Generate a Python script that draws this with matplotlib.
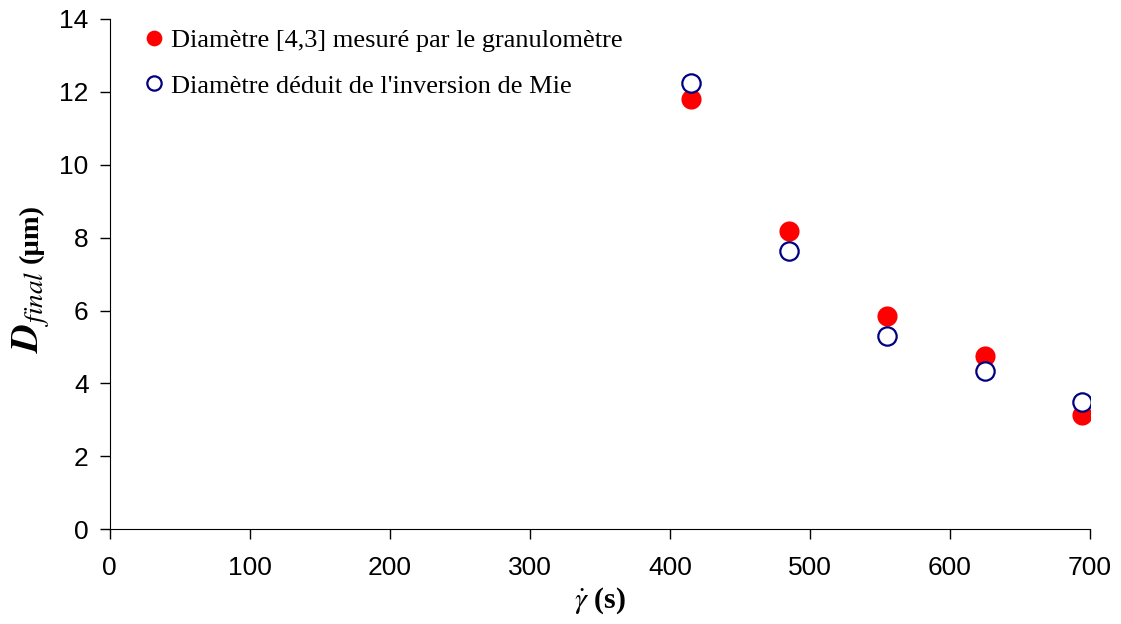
import matplotlib.pyplot as plt

plt.rcParams['mathtext.fontset'] = 'stix'

# taux de cisaillement (s^-1) et diametres finaux (um)
shear_rate = [415, 485, 555, 625, 694]
d43_granulo = [11.80, 8.19, 5.84, 4.75, 3.13]
d_mie = [12.25, 7.64, 5.29, 4.35, 3.49]

label_granulo = "Diamètre [4,3] mesuré par le granulomètre"
label_mie = "Diamètre déduit de l'inversion de Mie"

W, H = 1121, 624
fig = plt.figure(figsize=(W / 100, H / 100), dpi=100)
ax = fig.add_axes([0.0977, 0.152, 0.8747, 0.8176])

ax.plot(shear_rate, d43_granulo, 'o', color='red', markersize=14.5,
        markeredgewidth=0, label=label_granulo)
ax.plot(shear_rate, d_mie, 'o', markerfacecolor='white', markeredgecolor='#000080',
        markersize=13.2, markeredgewidth=1.6, label=label_mie)

ax.set_xlim(0, 700)
ax.set_ylim(0, 14)
ax.set_xticks(range(0, 701, 100))
ax.set_yticks(range(0, 15, 2))
for side in ['top', 'right']:
    ax.spines[side].set_visible(False)
ax.tick_params(direction='out', length=7, width=1, labelsize=19)
ax.tick_params(axis='y', pad=8)
ax.tick_params(axis='x', pad=12)
for lab in ax.get_xticklabels() + ax.get_yticklabels():
    lab.set_fontfamily('Liberation Sans')

ax.set_xlabel(r'$\dot{\gamma}$ (s)', fontsize=21.5, fontweight='bold',
              family='Liberation Serif', labelpad=4)

# titre de l'axe y : D_final plus grand que l'unite
fig.text(39 / W, 1 - 353 / H, r'$\mathbfit{D}_{\mathit{final}}$', rotation=90,
         rotation_mode='anchor', ha='left', va='baseline', fontsize=28)
fig.text(38 / W, 1 - 263 / H, '(µm)', rotation=90, rotation_mode='anchor',
         ha='left', va='baseline', fontsize=20.5, fontweight='bold',
         family='Liberation Serif')

leg = ax.legend(loc='upper left', bbox_to_anchor=(0.0102, 1.027), frameon=False,
                prop={'family': 'Liberation Serif', 'size': 19}, handlelength=0.8,
                handletextpad=0.25, labelspacing=0.82, markerscale=0.78)

fig.savefig('out.png', dpi=100)
